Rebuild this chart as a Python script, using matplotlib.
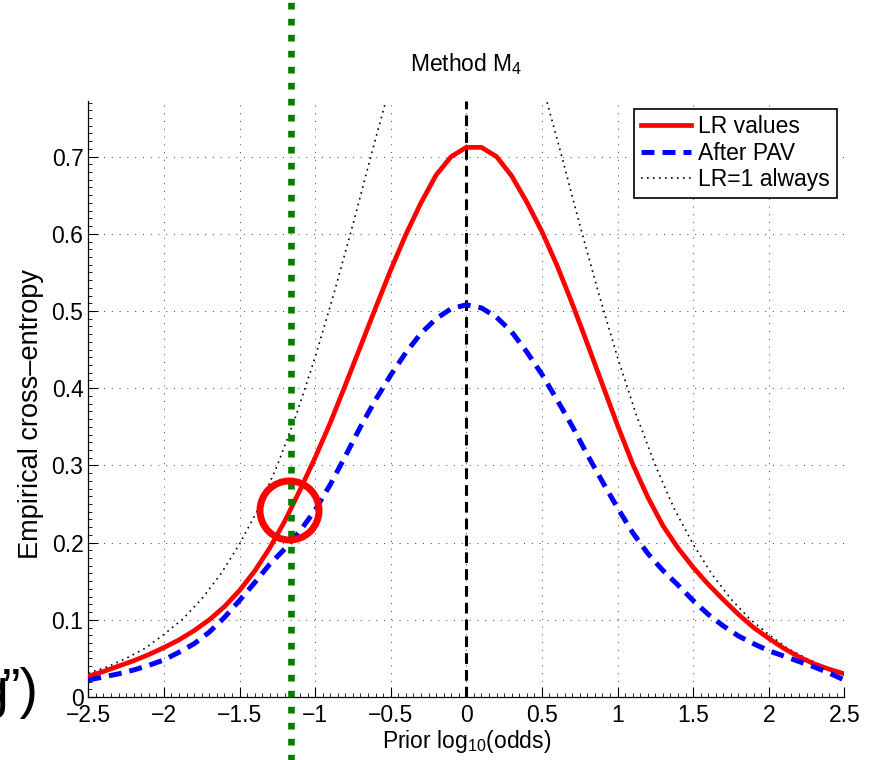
import matplotlib
matplotlib.use("Agg")
import matplotlib.pyplot as plt
from matplotlib.ticker import MultipleLocator, FixedLocator

plt.rcParams['font.family'] = ['Liberation Sans', 'DejaVu Sans']
plt.rcParams['mathtext.default'] = 'regular'

# ---- data ----
x_vals = [-2.5, -2.4, -2.3, -2.2, -2.1, -2.0, -1.9, -1.8, -1.7, -1.6,
          -1.5, -1.4, -1.3, -1.2, -1.1, -1.0, -0.9, -0.8, -0.7, -0.6,
          -0.5, -0.4, -0.3, -0.2, -0.1, 0.0, 0.1, 0.2, 0.3, 0.4,
          0.5, 0.6, 0.7, 0.8, 0.9, 1.0, 1.1, 1.2, 1.3, 1.4,
          1.5, 1.6, 1.7, 1.8, 1.9, 2.0, 2.1, 2.2, 2.3, 2.4, 2.5]

lr_values = [0.027, 0.033, 0.040, 0.047, 0.055, 0.064, 0.074, 0.086, 0.100, 0.117,
             0.138, 0.163, 0.193, 0.228, 0.268, 0.310, 0.355, 0.404, 0.454, 0.504,
             0.553, 0.599, 0.640, 0.676, 0.700, 0.712, 0.712, 0.700, 0.675, 0.641,
             0.603, 0.559, 0.510, 0.458, 0.405, 0.352, 0.302, 0.259, 0.222, 0.193,
             0.168, 0.146, 0.126, 0.107, 0.090, 0.076, 0.063, 0.052, 0.043, 0.036, 0.030]

after_pav = [0.022, 0.026, 0.030, 0.035, 0.041, 0.048, 0.058, 0.069, 0.084, 0.103,
             0.125, 0.148, 0.172, 0.192, 0.215, 0.242, 0.275, 0.312, 0.350, 0.385,
             0.417, 0.446, 0.471, 0.490, 0.503, 0.508, 0.504, 0.492, 0.473, 0.447,
             0.418, 0.385, 0.351, 0.314, 0.279, 0.245, 0.213, 0.186, 0.164, 0.145,
             0.125, 0.107, 0.092, 0.079, 0.069, 0.060, 0.053, 0.046, 0.039, 0.031, 0.022]

prior_x = [-2.5, -2.375, -2.25, -2.125, -2.0, -1.875, -1.75, -1.625, -1.5, -1.375,
           -1.25, -1.125, -1.0, -0.875, -0.75, -0.625, -0.5, -0.375, -0.25, -0.125,
           0.0, 0.125, 0.25, 0.375, 0.5, 0.625, 0.75, 0.875, 1.0, 1.125,
           1.25, 1.375, 1.5, 1.625, 1.75, 1.875, 2.0, 2.125, 2.25, 2.375, 2.5]
lr_one = [0.031, 0.039, 0.050, 0.063, 0.081, 0.101, 0.127, 0.159, 0.198, 0.244,
          0.300, 0.365, 0.440, 0.523, 0.612, 0.705, 0.795, 0.878, 0.944, 0.986,
          1.000, 0.986, 0.944, 0.878, 0.795, 0.705, 0.612, 0.523, 0.440, 0.365,
          0.300, 0.244, 0.198, 0.159, 0.127, 0.101, 0.081, 0.063, 0.050, 0.039, 0.031]

marker_x = -1.16            # green vertical marker (prior log odds)
circle_pt = (-1.17, 0.242)  # highlighted point

x_ticks = [-2.5, -2, -1.5, -1, -0.5, 0, 0.5, 1, 1.5, 2, 2.5]
x_ticklabels = ['\u22122.5', '\u22122', '\u22121.5', '\u22121', '\u22120.5', '0',
                '0.5', '1', '1.5', '2', '2.5']
y_ticks = [0, 0.1, 0.2, 0.3, 0.4, 0.5, 0.6, 0.7]
y_ticklabels = ['0', '0.1', '0.2', '0.3', '0.4', '0.5', '0.6', '0.7']

# ---- figure ----
fig = plt.figure(figsize=(8.74, 7.60), dpi=100)
ax = fig.add_axes([88.3 / 874, 63 / 760, 756 / 874, 595.6 / 760])

ax.plot(x_vals, lr_values, color='#ff0000', lw=3.4, label='LR values', zorder=4)
ax.plot(x_vals, after_pav, color='#0000ff', lw=3.6, ls=(0, (2.6, 1.6)),
        label='After PAV', zorder=4)
ax.plot(prior_x, lr_one, color='black', lw=1.2, ls=(0, (1, 2.6)),
        label='LR=1 always', zorder=3)

ax.axvline(0, color='black', lw=2.2, ls=(0, (3.5, 2)), zorder=3)
ax.axvline(marker_x, ymin=-0.12, ymax=1.2, color='#007f00', lw=4.8,
           ls=(0, (1, 1.4)), clip_on=False, zorder=5, solid_capstyle='butt',
           dash_capstyle='butt')
ax.plot([circle_pt[0]], [circle_pt[1]], marker='o', ms=42.5, mfc='none',
        mec='#ff0000', mew=5, clip_on=False, zorder=6)

ax.set_xlim(-2.5, 2.5)
ax.set_ylim(0, 0.7715)
ax.xaxis.set_major_locator(FixedLocator(x_ticks))
ax.yaxis.set_major_locator(FixedLocator(y_ticks))
ax.set_xticklabels(x_ticklabels)
ax.set_yticklabels(y_ticklabels)
ax.xaxis.set_minor_locator(MultipleLocator(0.05))
ax.yaxis.set_minor_locator(MultipleLocator(0.01))
ax.tick_params(which='major', direction='in', length=7, width=0.8,
               labelsize=16.5, colors='black')
ax.tick_params(which='minor', direction='in', length=3, width=0.6)
ax.tick_params(axis='x', pad=5)
ax.tick_params(axis='y', pad=3.5)

for s in ['top', 'right']:
    ax.spines[s].set_visible(False)
for s in ['left', 'bottom']:
    ax.spines[s].set_linewidth(0.9)

ax.grid(True, which='major', color='0.25', lw=0.7, ls=(0, (1, 7)))

ax.set_title('Method M$_4$', fontsize=16.5, pad=22)
ax.set_xlabel('Prior log$_{10}$(odds)', fontsize=16.5, labelpad=1)
ax.set_ylabel('Empirical cross\u2013entropy', fontsize=19.5)
ax.yaxis.set_label_coords(-0.058, 0.475)

leg = ax.legend(loc='upper right', bbox_to_anchor=(0.99, 0.988),
                borderaxespad=0, fontsize=16.5, frameon=True, fancybox=False,
                edgecolor='black', framealpha=1, labelspacing=0.15,
                handlelength=2.2, handletextpad=0.3, borderpad=0.3)
leg.get_frame().set_linewidth(1.2)

# fragment of slide text cut off at the left edge
fig.text(9 / 874, 0.070, 'g', fontsize=40, ha='right', va='baseline')
fig.text(39 / 874, 0.070, '\u201d)', fontsize=40, ha='right', va='baseline')

fig.savefig('out.png', dpi=100)
